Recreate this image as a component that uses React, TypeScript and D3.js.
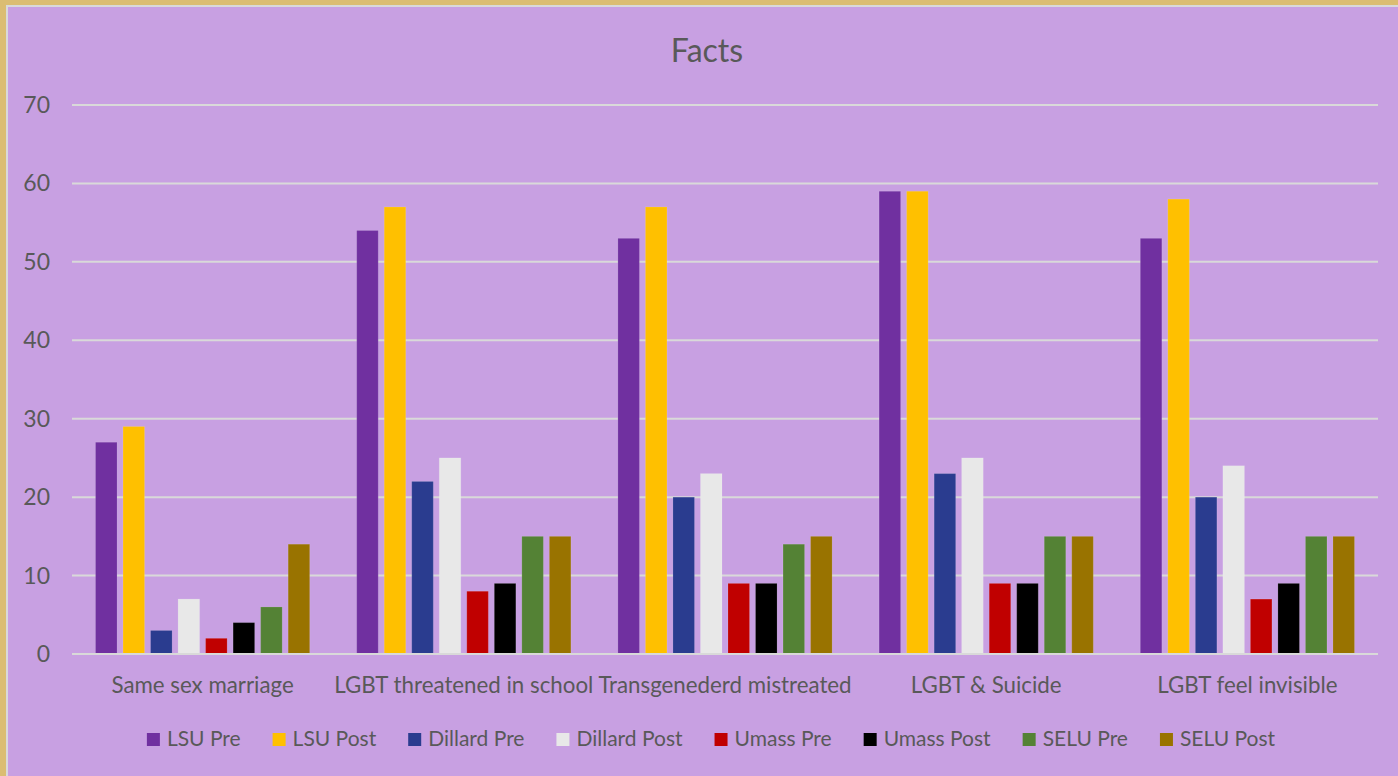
import React, { useEffect, useRef } from "react";
import * as d3 from "d3";

const categories = [
  "Same sex marriage",
  "LGBT threatened in school",
  "Transgenederd mistreated",
  "LGBT & Suicide",
  "LGBT feel invisible",
];

const seriesNames = [
  "LSU Pre",
  "LSU Post",
  "Dillard Pre",
  "Dillard Post",
  "Umass Pre",
  "Umass Post",
  "SELU Pre",
  "SELU Post",
];

const seriesColors = [
  "#7030A0",
  "#FFC000",
  "#2A3C8F",
  "#E8E8E8",
  "#C00000",
  "#000000",
  "#548235",
  "#997300",
];

// one row per category, one value per series
const values = [
  [27, 29, 3, 7, 2, 4, 6, 14],
  [54, 57, 22, 25, 8, 9, 15, 15],
  [53, 57, 20, 23, 9, 9, 14, 15],
  [59, 59, 23, 25, 9, 9, 15, 15],
  [53, 58, 20, 24, 7, 9, 15, 15],
];

const yTicks = [0, 10, 20, 30, 40, 50, 60, 70];

const W = 1398;
const H = 776;
const FONT = "Lato, 'Open Sans', sans-serif";
const TEXT = "#595959";

export default function App() {
  const svgRef = useRef<SVGSVGElement>(null);

  useEffect(() => {
    if (!svgRef.current) return;
    const svg = d3.select(svgRef.current);
    svg.selectAll("*").remove();

    // frame
    svg.append("rect").attr("width", W).attr("height", H).attr("fill", "#DBBD72");
    svg.append("rect")
      .attr("x", 6).attr("y", 5).attr("width", W).attr("height", H)
      .attr("fill", "#D9D9D9");
    svg.append("rect")
      .attr("x", 8).attr("y", 7).attr("width", W).attr("height", H)
      .attr("fill", "#C8A0E2");

    const left = 72, right = 1378, top = 105, bottom = 654;

    const x = d3.scaleBand<string>()
      .domain(categories)
      .range([left, right])
      .paddingInner(0.18)
      .paddingOuter(0.09);

    const xs = d3.scaleBand<string>()
      .domain(seriesNames)
      .range([0, x.bandwidth()])
      .paddingInner(0.218);

    const y = d3.scaleLinear().domain([0, 70]).range([bottom, top]);

    // title
    svg.append("text")
      .attr("x", 707).attr("y", 62)
      .attr("text-anchor", "middle")
      .attr("font-family", FONT).attr("font-size", 32)
      .attr("fill", TEXT)
      .text("Facts");

    // grid
    svg.append("g")
      .selectAll("line")
      .data(yTicks)
      .join("line")
      .attr("x1", left).attr("x2", right)
      .attr("y1", d => y(d)).attr("y2", d => y(d))
      .attr("stroke", "#D9D9D9").attr("stroke-width", 2);

    // y labels
    svg.append("g")
      .selectAll("text")
      .data(yTicks)
      .join("text")
      .attr("x", 50).attr("y", d => y(d) + 8)
      .attr("text-anchor", "end")
      .attr("font-family", FONT).attr("font-size", 23)
      .attr("fill", TEXT)
      .text(d => d);

    // bars
    const groups = svg.append("g")
      .selectAll("g")
      .data(categories)
      .join("g")
      .attr("transform", d => `translate(${x(d)},0)`);

    groups.selectAll("rect")
      .data((_, i) => values[i].map((v, j) => ({ v, s: seriesNames[j], c: seriesColors[j] })))
      .join("rect")
      .attr("x", d => xs(d.s)!)
      .attr("width", xs.bandwidth())
      .attr("y", d => y(d.v))
      .attr("height", d => y(0) - y(d.v))
      .attr("fill", d => d.c)
      .attr("stroke", "rgba(255,255,255,0.12)")
      .attr("stroke-width", 1);

    // baseline on top of bars
    svg.append("line")
      .attr("x1", left).attr("x2", right)
      .attr("y1", y(0)).attr("y2", y(0))
      .attr("stroke", "#D9D9D9").attr("stroke-width", 2);

    // category labels
    svg.append("g")
      .selectAll("text")
      .data(categories)
      .join("text")
      .attr("x", d => x(d)! + x.bandwidth() / 2)
      .attr("y", 693)
      .attr("text-anchor", "middle")
      .attr("font-family", FONT).attr("font-size", 22.3)
      .attr("fill", TEXT)
      .text(d => d);

    // legend, measured then centred
    const legend = svg.append("g");
    const items = legend.selectAll("g")
      .data(seriesNames)
      .join("g");
    items.append("rect")
      .attr("y", 733).attr("width", 13).attr("height", 13)
      .attr("fill", (_, i) => seriesColors[i]);
    const labels = items.append("text")
      .attr("x", 20).attr("y", 746)
      .attr("font-family", FONT).attr("font-size", 21)
      .attr("fill", TEXT)
      .text(d => d);

    const widths: number[] = [];
    labels.each(function () {
      widths.push(20 + (this as SVGTextElement).getComputedTextLength());
    });
    const gap = 32;
    const total = d3.sum(widths) + gap * (widths.length - 1);
    let cx = 711 - total / 2;
    items.attr("transform", (_, i) => {
      const t = `translate(${cx},0)`;
      cx += widths[i] + gap;
      return t;
    });
  }, []);

  return (
    <svg
      ref={svgRef}
      width={W}
      height={H}
      style={{ position: "absolute", left: 0, top: 0, display: "block" }}
    />
  );
}
